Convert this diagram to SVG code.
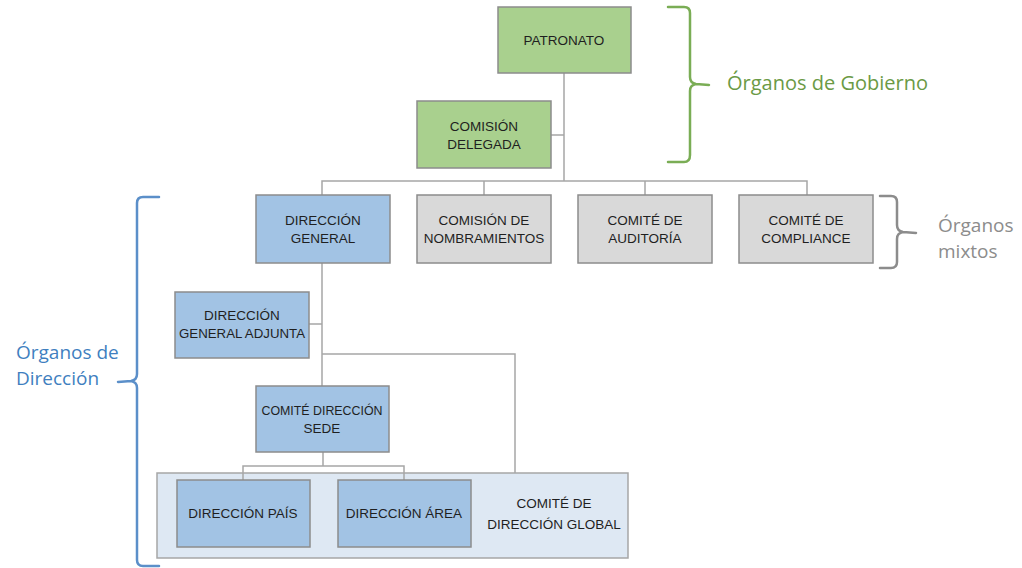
<svg xmlns="http://www.w3.org/2000/svg" width="1022" height="568" viewBox="0 0 1022 568">
<style>
.box{stroke:#8c8c8c;stroke-width:1.5}
.g{fill:#a9d08e}
.b{fill:#a2c3e4}
.y{fill:#d9d9d9}
.t{font-family:"Liberation Sans",Arial,sans-serif;font-size:13.5px;fill:#1f1f1f;text-anchor:middle}
.c{fill:none;stroke:#a6a6a6;stroke-width:1.5}
.br{fill:none;stroke-width:2.5;stroke-linecap:round;stroke-linejoin:round}
.lab{font-family:"Open Sans","Liberation Sans",sans-serif;font-size:19px}
</style>
<rect width="1022" height="568" fill="#ffffff"/>
<g id="global-frame">
<rect x="157" y="473" width="471" height="85" fill="#dee8f3" stroke="#a6a6a6" stroke-width="1.5"/>
<text class="t" x="554" y="508">COMITÉ DE</text>
<text class="t" x="554" y="529">DIRECCIÓN GLOBAL</text>
</g>
<g id="connectors" class="c">
<path d="M564 73V181"/>
<path d="M551 135H564"/>
<path d="M322 195V181H807V195"/>
<path d="M484 181V195"/>
<path d="M645 181V195"/>
<path d="M322 263V386"/>
<path d="M309 324H322"/>
<path d="M322 354H515V473"/>
<path d="M323 452V466"/>
<path d="M243 480V466H404V480"/>
</g>
<g id="patronato"><rect class="box g" x="498" y="7" width="133" height="66"/><text class="t" x="564" y="45">PATRONATO</text></g>
<g id="comision-delegada"><rect class="box g" x="417" y="101" width="134" height="67"/><text class="t" x="484" y="131">COMISIÓN</text><text class="t" x="484" y="149">DELEGADA</text></g>
<g id="direccion-general"><rect class="box b" x="256" y="195" width="134" height="68"/><text class="t" x="323" y="225">DIRECCIÓN</text><text class="t" x="323" y="243">GENERAL</text></g>
<g id="comision-nombramientos"><rect class="box y" x="417" y="195" width="134" height="68"/><text class="t" x="484" y="225">COMISIÓN DE</text><text class="t" x="484" y="243">NOMBRAMIENTOS</text></g>
<g id="comite-auditoria"><rect class="box y" x="578" y="195" width="134" height="68"/><text class="t" x="645" y="225">COMITÉ DE</text><text class="t" x="645" y="243">AUDITORÍA</text></g>
<g id="comite-compliance"><rect class="box y" x="739" y="195" width="134" height="68"/><text class="t" x="806" y="225">COMITÉ DE</text><text class="t" x="806" y="243">COMPLIANCE</text></g>
<g id="direccion-general-adjunta"><rect class="box b" x="175" y="292" width="134" height="66"/><text class="t" x="242" y="320">DIRECCIÓN</text><text class="t" x="242" y="338" textLength="126" lengthAdjust="spacingAndGlyphs">GENERAL ADJUNTA</text></g>
<g id="comite-direccion-sede"><rect class="box b" x="256" y="386" width="133" height="66"/><text class="t" x="322" y="415" textLength="121" lengthAdjust="spacingAndGlyphs">COMITÉ DIRECCIÓN</text><text class="t" x="322" y="433">SEDE</text></g>
<g id="direccion-pais"><rect class="box b" x="177" y="480" width="133" height="67"/><text class="t" x="243" y="518">DIRECCIÓN PAÍS</text></g>
<g id="direccion-area"><rect class="box b" x="338" y="480" width="133" height="67"/><text class="t" x="404" y="518">DIRECCIÓN ÁREA</text></g>
<g id="brace-gobierno">
<path class="br" stroke="#7aad55" d="M668 7H684Q690 7 690 13V77Q690 83 696 84L709 85M696 84Q690 85 690 91V155Q690 162 684 162H668"/>
<text class="lab" x="727" y="90" fill="#6b9a45" style="font-size:20px">Órganos de Gobierno</text>
</g>
<g id="brace-mixtos">
<path class="br" stroke="#8c8c8c" d="M880 196H891Q897 196 897 202V225Q897 231 903 232L916 233M903 232Q897 233 897 239V262Q897 268 891 268H880"/>
<text class="lab" x="938" y="232" fill="#8c8c8c">Órganos</text>
<text class="lab" x="938" y="258" fill="#8c8c8c">mixtos</text>
</g>
<g id="brace-direccion">
<path class="br" stroke="#5b8fc9" d="M159 197H143Q137 197 137 203V374Q137 380 131 381L118 382M131 381Q137 382 137 388V560Q137 566 143 566H159"/>
<text class="lab" x="16" y="359" fill="#3f7fc0">Órganos de</text>
<text class="lab" x="16" y="385" fill="#3f7fc0">Dirección</text>
</g>
</svg>
